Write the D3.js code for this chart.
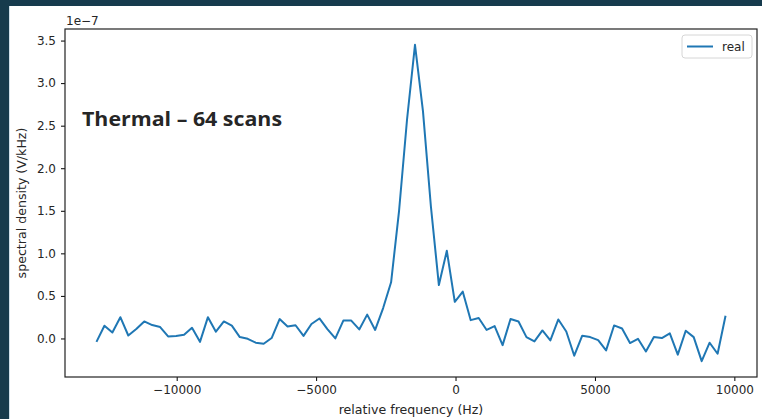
<!DOCTYPE html>
<html>
<head>
<meta charset="utf-8">
<script src="https://cdn.jsdelivr.net/npm/d3@7"></script>
<style>
  html, body { margin: 0; padding: 0; background: #163b4d; }
  svg { display: block; }
  text { font-family: "DejaVu Sans", sans-serif; fill: #262626; }
</style>
</head>
<body>
<div id="chart"></div>
<script>
// sample frequencies (Hz)
const freqs = [
  -12878, -12592, -12307, -12021, -11736, -11450, -11164, -10879, -10593, -10308,
  -10022, -9736, -9451, -9165, -8880, -8594, -8308, -8023, -7737, -7452,
  -7166, -6880, -6595, -6309, -6024, -5738, -5452, -5167, -4881, -4596,
  -4310, -4024, -3739, -3453, -3168, -2882, -2596, -2311, -2025, -1740,
  -1454, -1168, -883, -597, -312, -26, 260, 545, 831, 1116,
  1402, 1688, 1973, 2259, 2544, 2830, 3116, 3401, 3687, 3972,
  4258, 4544, 4829, 5115, 5400, 5686, 5972, 6257, 6543, 6828,
  7114, 7400, 7685, 7971, 8256, 8542, 8828, 9113, 9399, 9684
];

// real part of spectral density, in units of 1e-7 V/kHz
const realPart = [
  -0.04, 0.15, 0.07, 0.25, 0.035, 0.11, 0.20, 0.157, 0.134, 0.024,
  0.03, 0.043, 0.125, -0.04, 0.25, 0.08, 0.20, 0.15, 0.016, -0.004,
  -0.05, -0.062, 0.005, 0.228, 0.14, 0.155, 0.03, 0.17, 0.235, 0.11,
  0.0, 0.21, 0.21, 0.106, 0.28, 0.10, 0.357, 0.66, 1.5, 2.57,
  3.45, 2.67, 1.55, 0.627, 1.03, 0.43, 0.55, 0.215, 0.24, 0.10,
  0.146, -0.078, 0.228, 0.20, 0.016, -0.035, 0.094, -0.023, 0.223, 0.082,
  -0.203, 0.032, 0.016, -0.02, -0.14, 0.153, 0.117, -0.054, -0.004, -0.153,
  0.016, 0.004, 0.06, -0.19, 0.09, 0.016, -0.267, -0.05, -0.18, 0.266
];

const xTicks = [-10000, -5000, 0, 5000, 10000];
const yTicks = [0.0, 0.5, 1.0, 1.5, 2.0, 2.5, 3.0, 3.5];
const seriesName = "real";
const slideTitle = "Thermal \u2013 64 scans";

const W = 762, H = 419;
const margin = { left: 65, right: 5, top: 29, bottom: 42 };
const width = W - margin.left - margin.right;
const height = H - margin.top - margin.bottom;
const fs = "12px";

const svg = d3.select("#chart").append("svg")
  .attr("width", W)
  .attr("height", H);

// white slide area inside the dark frame
svg.append("rect")
  .attr("x", 9).attr("y", 6)
  .attr("width", W - 9).attr("height", H - 6)
  .attr("fill", "#fff");
svg.append("line")
  .attr("x1", 9.5).attr("x2", 9.5)
  .attr("y1", 6).attr("y2", H)
  .attr("stroke", "#cfe0ea");

const g = svg.append("g")
  .attr("transform", "translate(" + margin.left + "," + margin.top + ")");

// matplotlib-style 5% padding around the data
function padded(ext) {
  const p = (ext[1] - ext[0]) * 0.05;
  return [ext[0] - p, ext[1] + p];
}

const x = d3.scaleLinear()
  .domain(padded(d3.extent(freqs)))
  .range([0, width]);

const y = d3.scaleLinear()
  .domain(padded(d3.extent(realPart)))
  .range([height, 0]);

// x axis
const xAxis = g.append("g")
  .attr("transform", "translate(0," + height + ")")
  .call(d3.axisBottom(x).tickValues(xTicks).tickFormat(d3.format("d")).tickSize(4).tickPadding(4));
xAxis.select(".domain").remove();
xAxis.selectAll("text").style("font-size", fs).attr("fill", "#262626");

// y axis
const yAxis = g.append("g")
  .call(d3.axisLeft(y).tickValues(yTicks).tickFormat(d3.format(".1f")).tickSize(4).tickPadding(5));
yAxis.select(".domain").remove();
yAxis.selectAll("text").style("font-size", fs).attr("fill", "#262626");

// frame
g.append("rect")
  .attr("width", width).attr("height", height)
  .attr("fill", "none")
  .attr("stroke", "#222")
  .attr("stroke-width", 1.2);

// the line
const line = d3.line()
  .x((d, i) => x(freqs[i]))
  .y(d => y(d));

g.append("path")
  .datum(realPart)
  .attr("fill", "none")
  .attr("stroke", "#1f77b4")
  .attr("stroke-width", 2)
  .attr("stroke-linejoin", "round")
  .attr("d", line);

// offset text
g.append("text")
  .attr("x", 1).attr("y", -4)
  .style("font-size", fs)
  .text("1e\u22127");

// axis labels
svg.append("text")
  .attr("x", margin.left + width / 2)
  .attr("y", 414)
  .attr("text-anchor", "middle")
  .style("font-size", "12.6px")
  .text("relative frequency (Hz)");

svg.append("text")
  .attr("transform", "translate(26," + (margin.top + height / 2) + ") rotate(-90)")
  .attr("text-anchor", "middle")
  .style("font-size", "12.6px")
  .text("spectral density (V/kHz)");

// legend
const legend = g.append("g")
  .attr("transform", "translate(" + (width - 75) + ",6)");
legend.append("rect")
  .attr("width", 70).attr("height", 23)
  .attr("rx", 3)
  .attr("fill", "#fff")
  .attr("stroke", "#d6d6d6");
legend.append("line")
  .attr("x1", 5).attr("x2", 31)
  .attr("y1", 11.5).attr("y2", 11.5)
  .attr("stroke", "#1f77b4")
  .attr("stroke-width", 2);
legend.append("text")
  .attr("x", 40).attr("y", 15.5)
  .style("font-size", fs)
  .text(seriesName);

// slide annotation
svg.append("text")
  .attr("x", 82).attr("y", 126)
  .attr("textLength", 200)
  .attr("lengthAdjust", "spacingAndGlyphs")
  .style("font-family", "'Open Sans', Lato, sans-serif")
  .style("font-weight", "bold")
  .style("font-size", "20px")
  .attr("fill", "#000")
  .text(slideTitle);
</script>
</body>
</html>
